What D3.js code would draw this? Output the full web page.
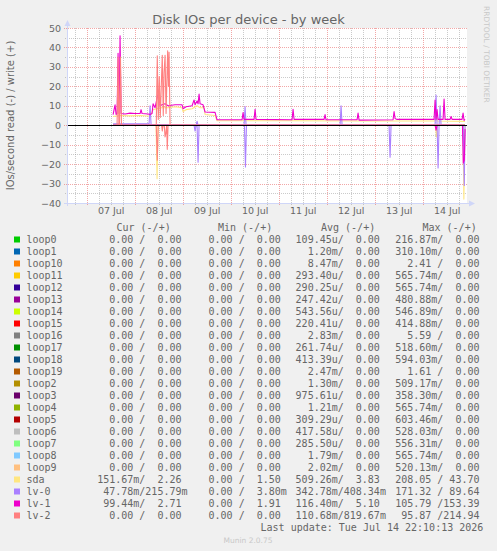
<!DOCTYPE html>
<html>
<head>
<meta charset="utf-8">
<title>Disk IOs per device - by week</title>
<script src="https://d3js.org/d3.v7.min.js"></script>
<style>
body { margin: 0; background: #F0F0F0; }
text { fill: #666666; font-family: "DejaVu Sans", sans-serif; }
.mono { font-family: "DejaVu Sans Mono", monospace; font-size: 10px; white-space: pre; }
</style>
</head>
<body>
<div id="chart"></div>
<script>

// legend order + colours (munin palette)
var names = ["loop0","loop1","loop10","loop11","loop12","loop13","loop14","loop15","loop16","loop17",
  "loop18","loop19","loop2","loop3","loop4","loop5","loop6","loop7","loop8","loop9","sda","lv-0","lv-1","lv-2"];
var colors = ["#00CC00","#0066B3","#FF8000","#FFCC00","#330099","#990099","#CCFF00","#FF0000","#808080","#008F00",
  "#00487D","#B35A00","#B38F00","#6B006B","#8FB300","#B30000","#BEBEBE","#80FF80","#80C9FF","#FFC080","#FFE680","#AA80FF","#EE00CC","#FF8080"];

// legend values, read / write
var curRead  = ["0.00","0.00","0.00","0.00","0.00","0.00","0.00","0.00","0.00","0.00","0.00","0.00","0.00","0.00","0.00","0.00","0.00","0.00","0.00","0.00","151.67m","47.78m","99.44m","0.00"];
var curWrite = ["0.00","0.00","0.00","0.00","0.00","0.00","0.00","0.00","0.00","0.00","0.00","0.00","0.00","0.00","0.00","0.00","0.00","0.00","0.00","0.00","2.26","215.79m","2.71","0.00"];
var minRead  = ["0.00","0.00","0.00","0.00","0.00","0.00","0.00","0.00","0.00","0.00","0.00","0.00","0.00","0.00","0.00","0.00","0.00","0.00","0.00","0.00","0.00","0.00","0.00","0.00"];
var minWrite = ["0.00","0.00","0.00","0.00","0.00","0.00","0.00","0.00","0.00","0.00","0.00","0.00","0.00","0.00","0.00","0.00","0.00","0.00","0.00","0.00","1.50","3.80m","1.91","0.00"];
var avgRead  = ["109.45u","1.20m","8.47m","293.40u","290.25u","247.42u","543.56u","220.41u","2.83m","261.74u","413.39u","2.47m","1.30m","975.61u","1.21m","309.29u","417.58u","285.50u","1.79m","2.02m","509.26m","342.78m","116.40m","110.68m"];
var avgWrite = ["0.00","0.00","0.00","0.00","0.00","0.00","0.00","0.00","0.00","0.00","0.00","0.00","0.00","0.00","0.00","0.00","0.00","0.00","0.00","0.00","3.83","408.34m","5.10","819.67m"];
var maxRead  = ["216.87m","310.10m","2.41","565.74m","565.74m","480.88m","546.89m","414.88m","5.59","518.60m","594.03m","1.61","509.17m","358.30m","565.74m","603.46m","528.03m","556.31m","565.74m","520.13m","208.05","171.32","105.79","95.87"];
var maxWrite = ["0.00","0.00","0.00","0.00","0.00","0.00","0.00","0.00","0.00","0.00","0.00","0.00","0.00","0.00","0.00","0.00","0.00","0.00","0.00","0.00","43.70","89.64","153.39","214.94"];

// series: [hours since 07 Jul 00:00, IOs/s]
var sdaWrite = [[13.2,4.5],[16.7,5],[21.7,4.8],[26.7,5],[31.7,4.6],[33.2,8],[36.7,9],[40.7,9],[44.2,9.5],[47.7,9],[48.2,7],[49.7,8],
  [52.7,8.5],[55.2,10],[56.7,9],[58.7,9],[59.2,5.5],[64.2,5],[65.2,2.3],[100,2.3],[140,2.2],[174.2,2.2],[174.7,5],[175.2,2.2],[189.2,2]];
var sdaRead = [[13.2,0],[34.7,0],[35.2,-27.5],[35.7,0],[174.4,0],[174.9,-6],[175.4,0],[188.1,0],[188.6,-38],[189.2,0]];
var lv0Write = [[13.2,0.7],[31.2,0.7],[31.7,10],[32.2,0.5],[33,0],[54.7,0],[55.2,2],[55.7,0],[78.7,0],[79.2,9.6],[79.7,0],
  [126.7,0],[127.2,10],[127.7,0],[174.2,0],[174.7,15.5],[175.2,0],[176.2,0],[176.7,10],[177.2,0],[189.2,0]];
var lv0Read = [[13.2,0],[53.7,0],[54.2,-3],[54.7,0],[55.2,0],[55.7,-19],[56.2,0],[78.9,0],[79.4,-21.5],[79.9,0],
  [151.2,0],[151.7,-16.5],[152.2,0],[175.2,0],[175.7,-22],[176.2,0],[188.3,0],[188.8,-31],[189.2,0]];
var lv1Write = [[13.2,5.5],[14.2,10.5],[14.7,5.5],[15.2,6],[15.7,37],[16.2,6],[16.7,46],[17.2,6],[19.2,5.8],[21.7,6.2],[24.2,6],
  [26.7,6],[27.2,8],[27.7,6],[30.7,5.8],[31.7,5.5],[32.7,6],[33.2,11],[34.2,9],[35.2,14],[36.2,18],[36.7,10],[37.7,10.5],
  [39.2,11],[40.7,10],[44.2,10.5],[47.7,10.5],[48.2,8.5],[49.7,9.5],[52.7,10],[53.7,13],[54.2,10.5],[55.2,12.5],[55.7,11],
  [56.2,16],[56.7,11],[58.2,10.5],[59.2,6.8],[64.2,6.6],[65.2,2.8],[71.7,2.8],[77.7,2.8],[78.2,6.5],[78.7,3],[83.7,3],[84.2,8.2],
  [84.7,3],[102.7,2.8],[103.2,8.2],[103.7,3],[118.7,3],[119.2,5.5],[119.7,2.8],[135.2,2.8],[135.7,6.2],[136.2,2.6],
  [153.2,2.8],[153.7,7],[154.2,3.5],[155,3],[173.7,3],[174.2,13],[174.7,3],[175.2,8],[175.7,3],[178.2,3],[178.7,13.5],
  [179.2,3],[181.7,3],[182.2,4.5],[182.7,3],[187.7,3],[188.2,6.2],[188.7,2.5],[189.2,3]];
var lv1Read = [[13.2,0],[174.2,0],[174.7,-2.5],[175.2,0],[187.9,0],[188.3,-19.5],[188.8,-18],[189.2,-2]];
var lv2Write = [[13.2,0],[15.2,0],[15.7,35],[16.1,0],[16.4,0],[16.9,35],[17.4,0],[34.8,0],[35.3,35.7],[35.8,3],[36.3,25],
  [36.8,4],[37.8,36],[38.3,5],[38.7,27],[39.2,36],[39.7,6],[40.5,38.3],[40.9,20],[41.2,37.5],[41.7,0],[189.2,0]];
var lv2Read = [[13.2,0],[34.8,0],[35.3,-18],[35.8,0],[37.5,0],[37.8,-3],[38.2,0],[38.8,0],[39.2,-6],[39.6,-4],[40,0],
  [40.3,-12.4],[40.7,0],[189.2,0]];

var yMajor = [-40,-30,-20,-10,0,10,20,30,40,50];
var yMinor = [-35,-25,-15,-5,5,15,25,35,45];

var W = 497, H = 551;
var plot = {left: 67, right: 467, top: 28, bottom: 203};

var svg = d3.select("#chart").append("svg")
    .attr("width", W).attr("height", H);

svg.append("rect").attr("width", W).attr("height", H).attr("fill", "#F0F0F0");

var t0 = new Date(2026, 6, 7);
function at(h) { return new Date(+t0 + h * 3600e3); }

var x = d3.scaleTime()
  .domain([d3.timeMinute.offset(t0, -590), d3.timeMinute.offset(t0, 11410)])
  .range([plot.left, plot.right]);
var y = d3.scaleLinear().domain([-40, 50]).range([plot.bottom, plot.top]);

svg.append("rect")
  .attr("x", plot.left).attr("y", plot.top)
  .attr("width", plot.right - plot.left).attr("height", plot.bottom - plot.top)
  .attr("fill", "#FFFFFF");

var days = d3.timeDay.range(d3.timeDay.ceil(x.domain()[0]), x.domain()[1]);
var sixes = d3.timeHour.every(6).range(x.domain()[0], x.domain()[1])
  .filter(function(d) { return d.getHours() != 0; });
var noons = days.map(function(d) { return d3.timeHour.offset(d, 12); });

var grid = svg.append("g").attr("shape-rendering", "crispEdges");
// minor grid
grid.selectAll(".vmin").data(sixes).enter().append("line")
  .attr("x1", function(d) { return Math.round(x(d)) + 0.5; })
  .attr("x2", function(d) { return Math.round(x(d)) + 0.5; })
  .attr("y1", plot.top).attr("y2", plot.bottom + 2)
  .attr("stroke", "rgba(140,140,140,0.45)").attr("stroke-dasharray", "1,1");
grid.selectAll(".hmin").data(yMinor).enter().append("line")
  .attr("x1", plot.left - 2).attr("x2", plot.right)
  .attr("y1", function(d) { return Math.round(y(d)) + 0.5; })
  .attr("y2", function(d) { return Math.round(y(d)) + 0.5; })
  .attr("stroke", "rgba(140,140,140,0.45)").attr("stroke-dasharray", "1,1");
// major grid
grid.selectAll(".vmaj").data(days).enter().append("line")
  .attr("x1", function(d) { return Math.round(x(d)) + 0.5; })
  .attr("x2", function(d) { return Math.round(x(d)) + 0.5; })
  .attr("y1", plot.top).attr("y2", plot.bottom + 3)
  .attr("stroke", "rgba(230,80,80,0.5)").attr("stroke-dasharray", "1,1");
grid.selectAll(".hmaj").data(yMajor).enter().append("line")
  .attr("x1", plot.left - 3).attr("x2", plot.right)
  .attr("y1", function(d) { return Math.round(y(d)) + 0.5; })
  .attr("y2", function(d) { return Math.round(y(d)) + 0.5; })
  .attr("stroke", "rgba(230,80,80,0.5)").attr("stroke-dasharray", "1,1");

// axes labels
var yAxis = svg.append("g")
  .attr("transform", "translate(" + (plot.left - 6) + ",0)")
  .call(d3.axisLeft(y).tickValues(yMajor).tickSize(0).tickPadding(0));
yAxis.select(".domain").remove();
yAxis.selectAll("text").attr("font-family", "DejaVu Sans").attr("font-size", "9.5px").attr("fill", "#666666");

var xAxis = svg.append("g")
  .attr("transform", "translate(0," + (plot.bottom + 4) + ")")
  .call(d3.axisBottom(x).tickValues(noons).tickFormat(d3.timeFormat("%d %b")).tickSize(0).tickPadding(0));
xAxis.select(".domain").remove();
xAxis.selectAll("text").attr("font-family", "DejaVu Sans").attr("font-size", "9.5px").attr("fill", "#666666");

// series
var line = d3.line()
  .x(function(d) { return x(at(d[0])); })
  .y(function(d) { return y(d[1]); });

var loopFlat = [[13.2, 0], [189.2, 0]];
var series = [];
names.forEach(function(n, i) {
  if (i < 20) { series.push({c: colors[i], d: loopFlat}); }
});
series.push({c: colors[20], d: sdaRead}, {c: colors[20], d: sdaWrite});
series.push({c: colors[21], d: lv0Read}, {c: colors[21], d: lv0Write});
series.push({c: colors[22], d: lv1Read}, {c: colors[22], d: lv1Write});
series.push({c: colors[23], d: lv2Read}, {c: colors[23], d: lv2Write});

svg.append("g").selectAll("path").data(series).enter().append("path")
  .attr("d", function(s) { return line(s.d); })
  .attr("fill", "none")
  .attr("stroke", function(s) { return s.c; })
  .attr("stroke-width", 1.1)
  .attr("stroke-linejoin", "round");

// zero line
svg.append("line")
  .attr("x1", plot.left).attr("x2", plot.right)
  .attr("y1", Math.round(y(0)) + 0.5).attr("y2", Math.round(y(0)) + 0.5)
  .attr("stroke", "#000000").attr("shape-rendering", "crispEdges");

// axis lines + arrows
var axisColor = "#CFD6F8";
svg.append("line").attr("x1", plot.left - 3).attr("x2", plot.right + 3)
  .attr("y1", plot.bottom + 0.5).attr("y2", plot.bottom + 0.5)
  .attr("stroke", axisColor).attr("shape-rendering", "crispEdges");
svg.append("line").attr("x1", plot.left + 0.5).attr("x2", plot.left + 0.5)
  .attr("y1", plot.bottom + 3).attr("y2", plot.top - 4)
  .attr("stroke", axisColor).attr("shape-rendering", "crispEdges");
svg.append("path")
  .attr("d", "M" + (plot.left - 2.5) + "," + (plot.top - 2) + "L" + (plot.left + 0.5) + "," + (plot.top - 8) +
    "L" + (plot.left + 3.5) + "," + (plot.top - 2) + "Z")
  .attr("fill", axisColor);
svg.append("path")
  .attr("d", "M" + (plot.right + 2) + "," + (plot.bottom - 2.5) + "L" + (plot.right + 8) + "," + (plot.bottom + 0.5) +
    "L" + (plot.right + 2) + "," + (plot.bottom + 3.5) + "Z")
  .attr("fill", axisColor);

// title, y label, watermark
svg.append("text")
  .attr("x", W / 2).attr("y", 24)
  .attr("text-anchor", "middle").attr("font-size", "13px")
  .text("Disk IOs per device - by week");

svg.append("text")
  .attr("transform", "translate(14," + ((plot.top + plot.bottom) / 2) + ")rotate(-90)")
  .attr("text-anchor", "middle").attr("font-size", "10px")
  .text("IOs/second read (-) / write (+)");

svg.append("text")
  .attr("transform", "translate(484,6)rotate(90)")
  .attr("font-size", "7.5px").style("fill", "#C8C8C8")
  .text("RRDTOOL / TOBI OETIKER");

svg.append("text")
  .attr("x", 248).attr("y", 543)
  .attr("text-anchor", "middle").attr("font-size", "7.5px").style("fill", "#C8C8C8")
  .text("Munin 2.0.75");

// legend
function fmt(v) {
  var unit = /[a-zA-Z]$/.test(v) ? v.slice(-1) : " ";
  var num = unit == " " ? v : v.slice(0, -1);
  return num.padStart(6) + unit;
}
function pair(r, w) { return fmt(r) + "/" + fmt(w); }

var colX = [97.2, 196.5, 295.6, 395.2];
var headX = [116.5, 218, 321, 422.5];
var heads = ["Cur (-/+)", "Min (-/+)", "Avg (-/+)", "Max (-/+)"];

var legend = svg.append("g").attr("class", "mono");
heads.forEach(function(h, i) {
  legend.append("text").attr("class", "mono").attr("x", headX[i]).attr("y", 231).text(h);
});

var rowY = function(i) { return 243 + i * 12; };
names.forEach(function(n, i) {
  legend.append("rect")
    .attr("x", 14).attr("y", rowY(i) - 6.5).attr("width", 6).attr("height", 6)
    .attr("fill", colors[i]);
  legend.append("text").attr("class", "mono").attr("x", 26.5).attr("y", rowY(i)).text(n);
  var cols = [pair(curRead[i], curWrite[i]), pair(minRead[i], minWrite[i]),
              pair(avgRead[i], avgWrite[i]), pair(maxRead[i], maxWrite[i])];
  cols.forEach(function(s, j) {
    legend.append("text").attr("class", "mono").attr("x", colX[j]).attr("y", rowY(i)).text(s);
  });
});

legend.append("text").attr("class", "mono")
  .attr("x", 483.3).attr("y", 531.3).attr("text-anchor", "end")
  .text("Last update: Tue Jul 14 22:10:13 2026");

</script>
</body>
</html>
